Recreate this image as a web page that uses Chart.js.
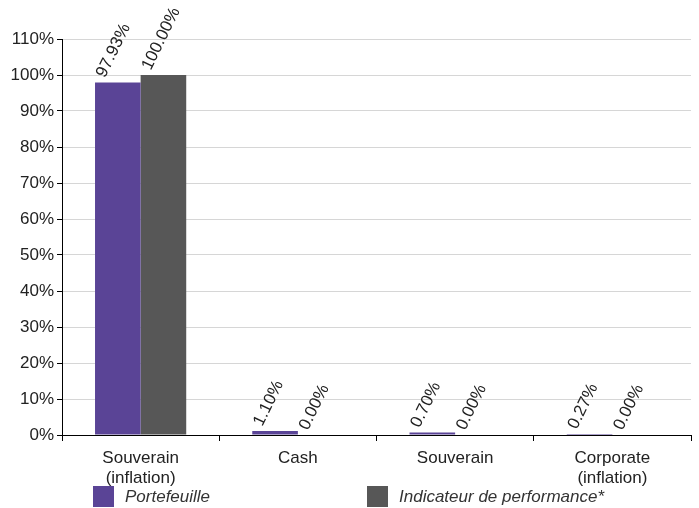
<!DOCTYPE html>
<html>
<head>
<meta charset="utf-8">
<script src="https://cdn.jsdelivr.net/npm/chart.js@4"></script>
<style>
  html, body { margin: 0; padding: 0; background: #fff; }
  #wrap { width: 699px; height: 508px; position: relative; }
</style>
</head>
<body>
<div id="wrap"><canvas id="chart"></canvas></div>
<script>
var categories = [['Souverain', '(inflation)'], 'Cash', 'Souverain', ['Corporate', '(inflation)']];
var portefeuille = [97.93, 1.10, 0.70, 0.27];
var indicateur = [100.00, 0.00, 0.00, 0.00];
var seriesNames = ['Portefeuille', 'Indicateur de performance*'];
var yTicks = [0, 10, 20, 30, 40, 50, 60, 70, 80, 90, 100, 110];

var PURPLE = '#5a4496';
var GREY = '#575757';
var FONT = '"Liberation Sans", Arial, sans-serif';

// rotated value labels above each bar
var valueLabels = {
  id: 'valueLabels',
  afterDatasetsDraw: function(chart) {
    var ctx = chart.ctx;
    ctx.save();
    ctx.fillStyle = '#222';
    ctx.font = '17px ' + FONT;
    ctx.textAlign = 'left';
    ctx.textBaseline = 'alphabetic';
    chart.data.datasets.forEach(function(ds, di) {
      var meta = chart.getDatasetMeta(di);
      meta.data.forEach(function(bar, i) {
        var x = bar.x - bar.width / 2 + 10;
        var y = bar.y - 4;
        ctx.save();
        ctx.translate(x, y);
        ctx.rotate(-64 * Math.PI / 180);
        ctx.fillText(ds.data[i].toFixed(2) + '%', 0, 0);
        ctx.restore();
      });
    });
    ctx.restore();
  }
};

// legend placed under the category labels
var bottomLegend = {
  id: 'bottomLegend',
  afterDraw: function(chart) {
    var ctx = chart.ctx;
    var left = chart.chartArea.left;
    var offsets = [31, 305];
    ctx.save();
    ctx.font = 'italic 17px ' + FONT;
    ctx.textBaseline = 'middle';
    ctx.textAlign = 'left';
    chart.data.datasets.forEach(function(ds, i) {
      var bx = left + offsets[i];
      ctx.fillStyle = ds.backgroundColor;
      ctx.fillRect(bx, 486, 21, 21);
      ctx.fillStyle = '#333';
      ctx.fillText(ds.label, bx + 32, 497);
    });
    ctx.restore();
  }
};

new Chart(document.getElementById('chart'), {
  type: 'bar',
  data: {
    labels: categories,
    datasets: [
      { label: seriesNames[0], data: portefeuille, backgroundColor: PURPLE, borderWidth: 0 },
      { label: seriesNames[1], data: indicateur, backgroundColor: GREY, borderWidth: 0 }
    ]
  },
  options: {
    responsive: true,
    maintainAspectRatio: false,
    animation: false,
    devicePixelRatio: 1,
    categoryPercentage: 0.58,
    barPercentage: 1.0,
    layout: { padding: { top: 39, right: 8, bottom: 0, left: 0 } },
    plugins: {
      legend: { display: false },
      tooltip: { enabled: false }
    },
    scales: {
      x: {
        afterFit: function(scale) { scale.height = 73; },
        grid: {
          offset: true,
          drawOnChartArea: false,
          drawTicks: true,
          tickLength: 6,
          color: '#000'
        },
        border: { color: '#000', width: 1 },
        ticks: {
          color: '#222',
          padding: 7,
          font: { family: FONT, size: 17, lineHeight: 1.18 },
          maxRotation: 0,
          autoSkip: false
        }
      },
      y: {
        min: 0,
        max: 110,
        afterFit: function(scale) { scale.width = 62; },
        afterBuildTicks: function(scale) {
          scale.ticks = yTicks.map(function(v) { return { value: v }; });
        },
        grid: {
          color: '#d6d6d6',
          tickColor: '#000',
          tickLength: 5,
          drawTicks: true
        },
        border: { color: '#000', width: 1 },
        ticks: {
          color: '#222',
          padding: 3,
          font: { family: FONT, size: 17 },
          callback: function(v) { return v + '%'; }
        }
      }
    }
  },
  plugins: [valueLabels, bottomLegend]
});
</script>
</body>
</html>
